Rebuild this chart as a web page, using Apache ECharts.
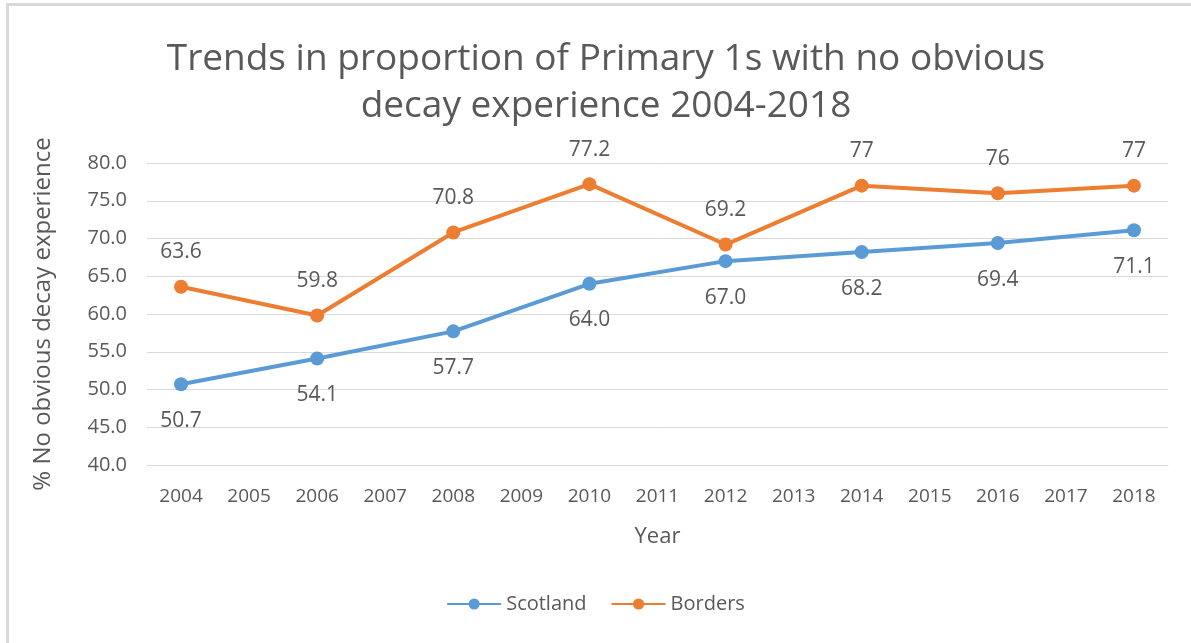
<!DOCTYPE html>
<html>
<head>
<meta charset="utf-8">
<script src="https://cdn.jsdelivr.net/npm/echarts@6/dist/echarts.min.js"></script>
<style>
html,body{margin:0;padding:0;background:#fff;}
#frame{position:absolute;left:6px;top:3px;width:1191px;height:643px;border-left:3px solid #d9d9d9;border-top:3px solid #d9d9d9;box-sizing:border-box;}
#chart{position:absolute;left:0;top:0;width:1191px;height:643px;}
</style>
</head>
<body>
<div id="frame"></div>
<div id="chart"></div>
<script>
const years = ['2004','2005','2006','2007','2008','2009','2010','2011','2012','2013','2014','2015','2016','2017','2018'];
const scotland = [50.7, null, 54.1, null, 57.7, null, 64.0, null, 67.0, null, 68.2, null, 69.4, null, 71.1];
const borders = [63.6, null, 59.8, null, 70.8, null, 77.2, null, 69.2, null, 77, null, 76, null, 77];
const yTicks = { min: 40, max: 80, interval: 5 };

const FONT = '"Open Sans", "Liberation Sans", sans-serif';
const TXT = '#595959';
const chart = echarts.init(document.getElementById('chart'));
chart.setOption({
  animation: false,
  textStyle: { fontFamily: FONT },
  title: {
    text: 'Trends in proportion of Primary 1s with no obvious\ndecay experience 2004-2018',
    left: 601, top: 31, textAlign: 'center',
    textStyle: { fontFamily: FONT, fontSize: 37, fontWeight: 'normal', color: TXT, lineHeight: 47 }
  },
  legend: {
    bottom: 24, left: 'center',
    itemWidth: 54, itemHeight: 14, itemGap: 24,
    textStyle: { fontFamily: FONT, fontSize: 20, color: TXT },
    data: ['Scotland', 'Borders']
  },
  grid: { left: 147, right: 23, top: 163, bottom: 178 },
  xAxis: {
    type: 'category', data: years, boundaryGap: true,
    name: 'Year', nameLocation: 'middle', nameGap: 61,
    nameTextStyle: { fontFamily: FONT, fontSize: 22, color: TXT },
    axisLine: { show: true, lineStyle: { color: '#d9d9d9', width: 1 } },
    axisTick: { show: false },
    axisLabel: { fontFamily: FONT, fontSize: 19, color: TXT, margin: 22, interval: 0 }
  },
  yAxis: {
    type: 'value', min: yTicks.min, max: yTicks.max, interval: yTicks.interval,
    name: '% No obvious decay experience', nameLocation: 'middle', nameGap: 92,
    nameTextStyle: { fontFamily: FONT, fontSize: 24, color: TXT },
    axisLine: { show: false }, axisTick: { show: false },
    axisLabel: { fontFamily: FONT, fontSize: 20, color: TXT, margin: 20, formatter: v => v.toFixed(1) },
    splitLine: { lineStyle: { color: '#d9d9d9', width: 1 } }
  },
  series: [
    {
      name: 'Scotland', type: 'line', data: scotland, connectNulls: true,
      symbol: 'circle', symbolSize: 14,
      lineStyle: { color: '#5B9BD5', width: 4 },
      itemStyle: { color: '#5B9BD5' },
      label: { show: true, position: 'bottom', distance: 19, fontFamily: FONT, fontSize: 21, color: TXT,
        formatter: p => p.value.toFixed(1) }
    },
    {
      name: 'Borders', type: 'line', data: borders, connectNulls: true,
      symbol: 'circle', symbolSize: 14,
      lineStyle: { color: '#ED7D31', width: 4 },
      itemStyle: { color: '#ED7D31' },
      label: { show: true, position: 'top', distance: 17, fontFamily: FONT, fontSize: 21, color: TXT,
        formatter: p => String(p.value) }
    }
  ]
});
</script>
</body>
</html>
